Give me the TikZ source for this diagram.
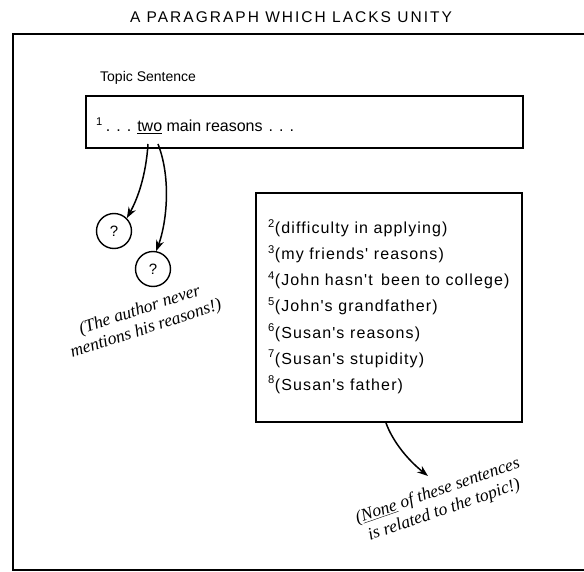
\documentclass[tikz,border=0pt]{standalone}
\usepackage{fontspec}
\setmainfont{Liberation Sans}
\newfontfamily\notefont{Liberation Serif}
\newfontfamily\wideface[LetterSpace=7]{Liberation Sans}
\newfontfamily\titleface[LetterSpace=13]{Liberation Sans}
\usetikzlibrary{arrows.meta}
\begin{document}
\begin{tikzpicture}[x=1pt,y=-1pt,
  frame/.style={line width=1.6pt},
  boxline/.style={line width=1.3pt},
  pointer/.style={line width=1.5pt,-{Stealth[length=11pt,width=8pt]}},
  qcircle/.style={circle,draw,line width=1.4pt,minimum size=35pt,inner sep=0pt,font=\fontsize{15}{17}\selectfont},
  label/.style={font=\wideface\fontsize{16}{19}\selectfont,anchor=base west,inner sep=0pt},
  note/.style={font=\notefont\itshape\fontsize{17.5}{20}\selectfont,align=center,inner sep=0pt}]
\useasboundingbox (0,0) rectangle (584,572);

% title
\node[font=\titleface\fontsize{15.5}{18}\selectfont] (title) at (291,17) {A PARAGRAPH WHICH LACKS UNITY};

% outer frame, open to the right
\draw[frame] (590,34) -- (13,34) -- (13,570) -- (590,570);

% topic sentence
\node[label,font=\fontsize{14}{17}\selectfont] (topiclabel) at (100,82) {Topic Sentence};
\draw[boxline] (86,96) rectangle (523,148);
\node[label,font=\fontsize{16}{19}\selectfont] (topic) at (96,132)
  {\textsuperscript{1}\hspace{3pt}.\hspace{6pt}.\hspace{6pt}.\hspace{6pt}\underline{two} main reasons\hspace{6pt}.\hspace{6pt}.\hspace{6pt}.};
\coordinate (s1) at (148,144);
\coordinate (s2) at (158,144);

% the two missing reasons
\node[qcircle] (q1) at (114,231) {?};
\node[qcircle] (q2) at (153,269) {?};
\draw[pointer] (s1) .. controls (146,175) and (138,198) .. (q1.north east);
\draw[pointer] (s2) .. controls (172,180) and (166,225) .. (q2.80);

\node[note,rotate=18] (n1) at (143,320) {(The author never\\mentions his reasons!)};

% remaining sentences
\draw[boxline] (256,193) rectangle (522,422);
\node[label] (l2) at (268,234) {\textsuperscript{2}(difficulty in applying)};
\node[label] (l3) at (268,260) {\textsuperscript{3}(my friends' reasons)};
\node[label] (l4) at (268,286) {\textsuperscript{4}(John hasn't\, been to college)};
\node[label] (l5) at (268,312) {\textsuperscript{5}(John's grandfather)};
\node[label] (l6) at (268,338) {\textsuperscript{6}(Susan's reasons)};
\node[label] (l7) at (268,364) {\textsuperscript{7}(Susan's stupidity)};
\node[label] (l8) at (268,390) {\textsuperscript{8}(Susan's father)};
\coordinate (s3) at (386,423);
\coordinate (e3) at (428,476);
\draw[pointer] (s3) .. controls (393,442) and (408,460) .. (e3);

\node[note,rotate=19] (n2) at (441,501) {(\underline{None} of these sentences\\is related to the topic!)};
\end{tikzpicture}
\end{document}
